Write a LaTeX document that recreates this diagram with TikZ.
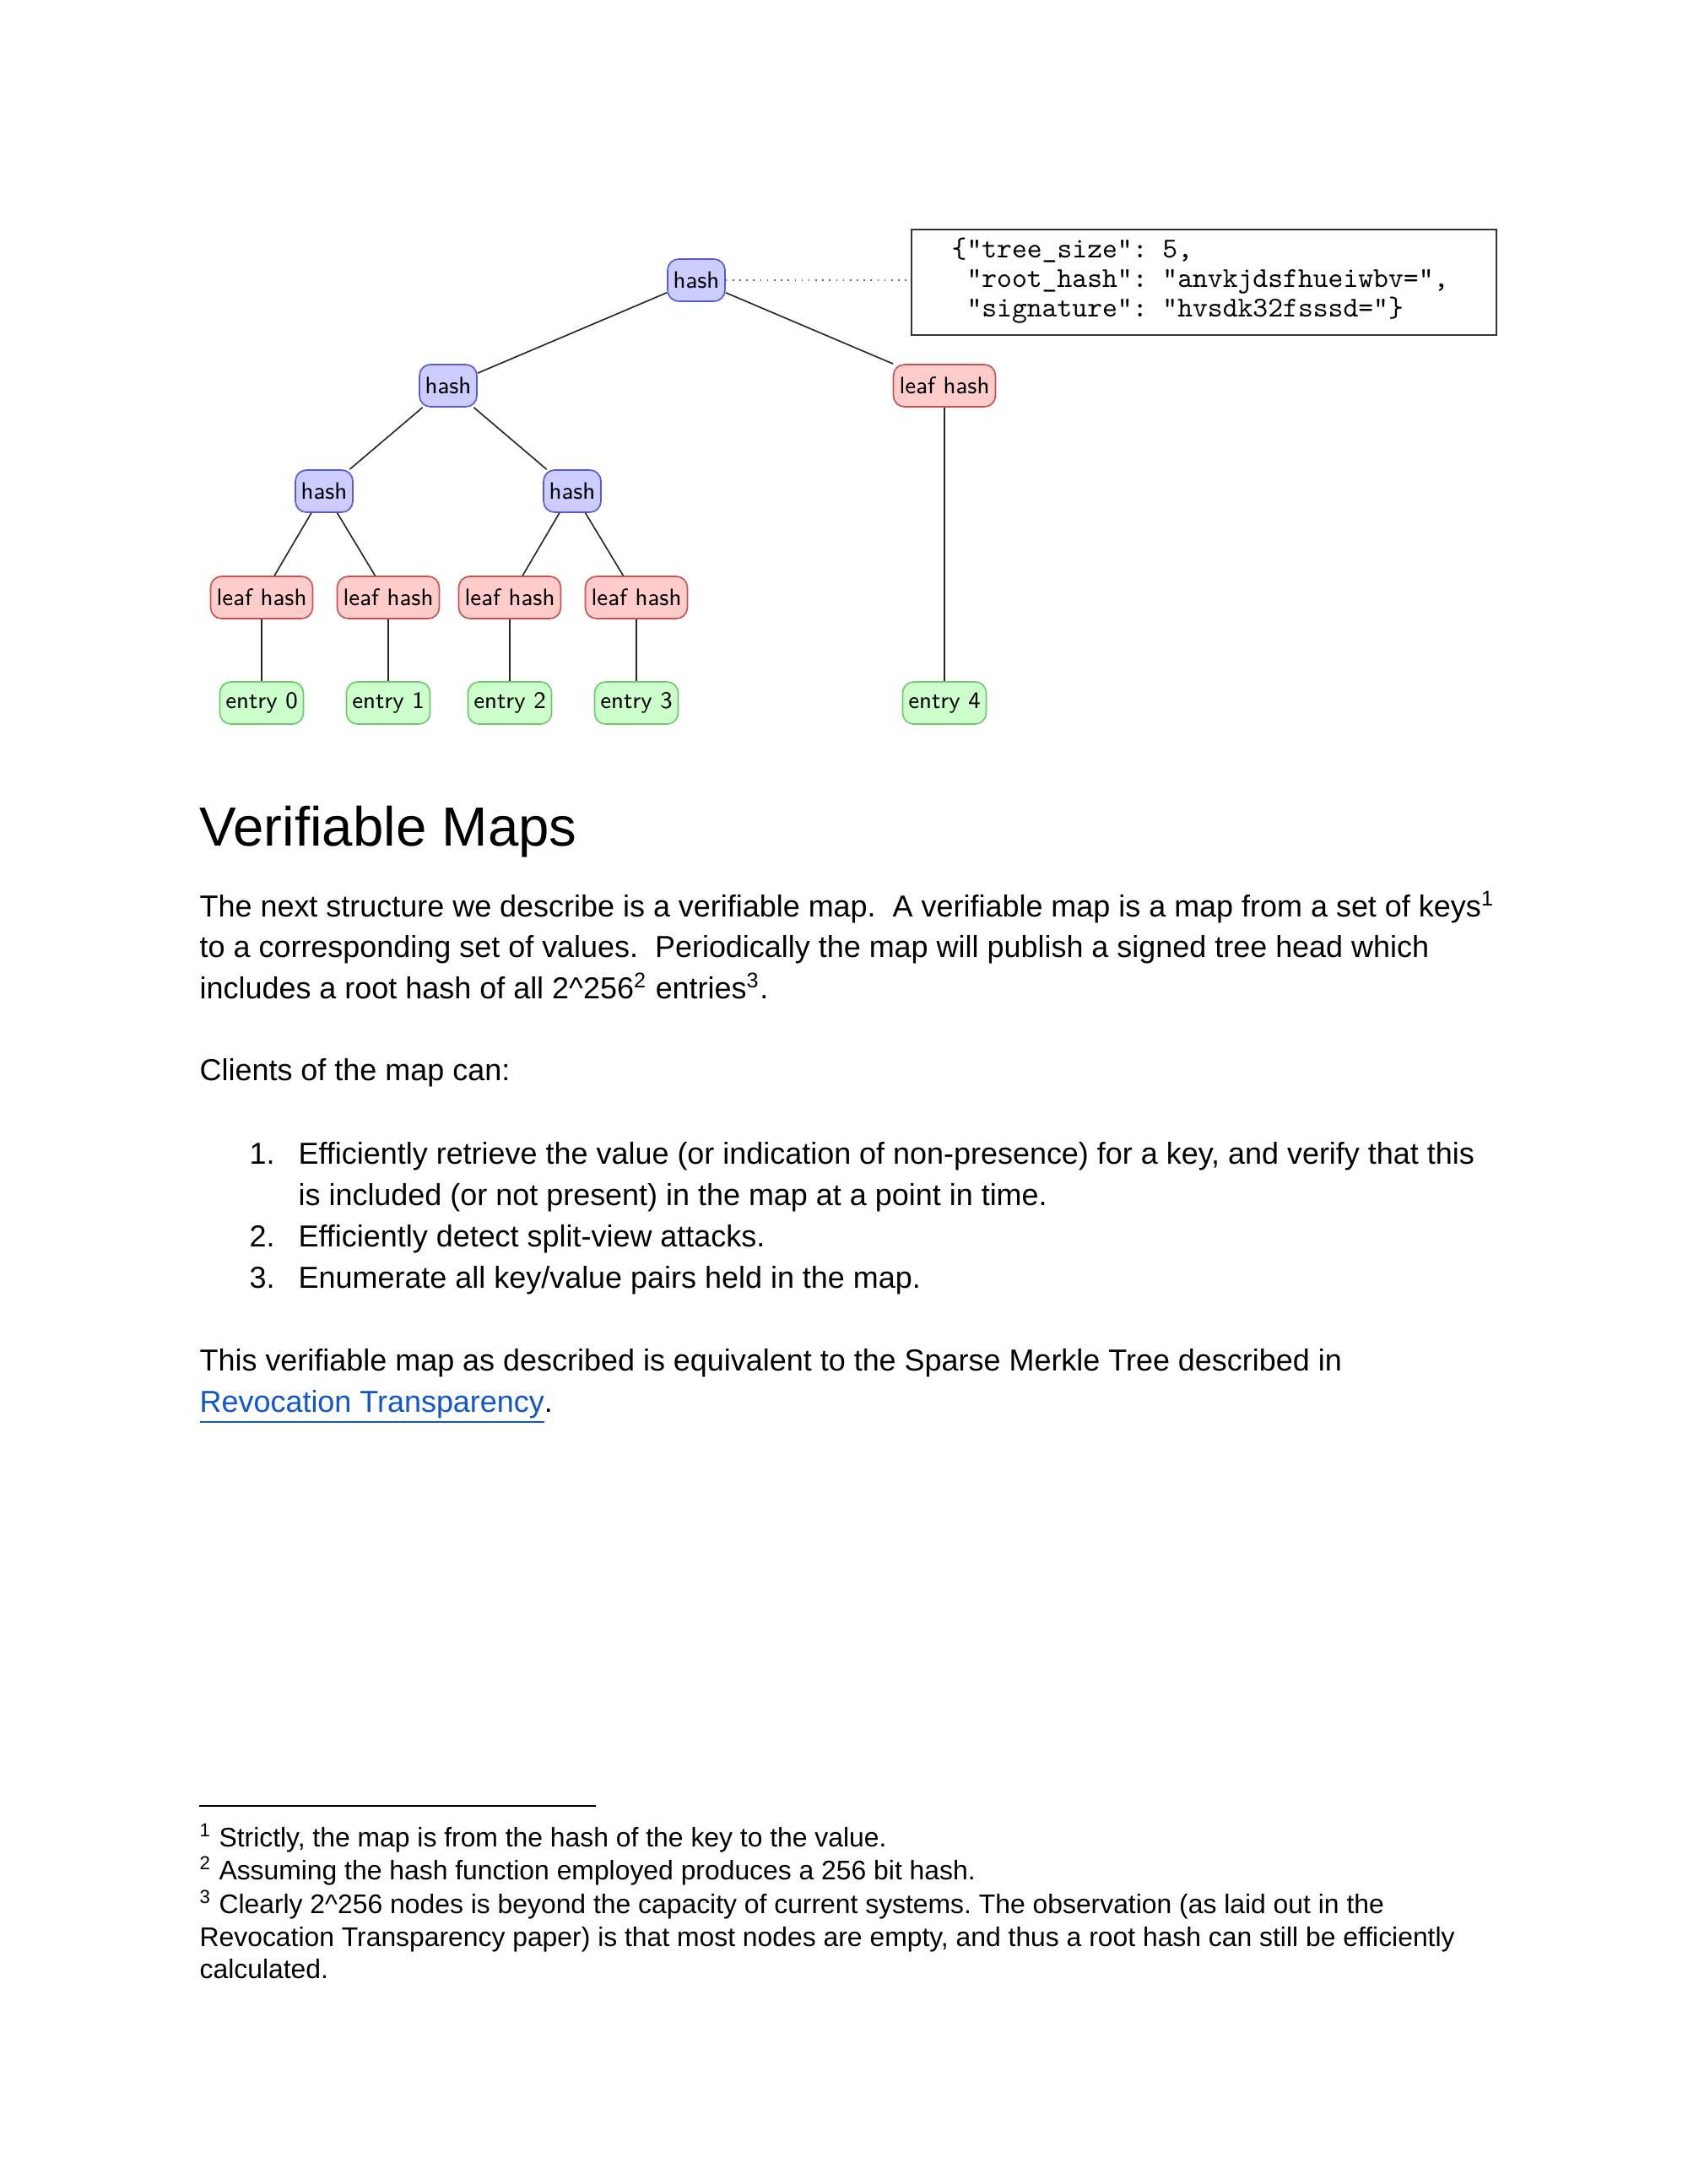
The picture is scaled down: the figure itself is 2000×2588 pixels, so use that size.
\documentclass[tikz,border=0pt]{standalone}
\usepackage{fontspec}
\setmainfont{Liberation Sans}
\frenchspacing
\definecolor{hashfill}{RGB}{204,204,255}
\definecolor{hashdraw}{RGB}{90,90,210}
\definecolor{leaffill}{RGB}{255,204,204}
\definecolor{leafdraw}{RGB}{200,80,80}
\definecolor{entryfill}{RGB}{204,255,204}
\definecolor{entrydraw}{RGB}{110,200,110}
\definecolor{linkblue}{RGB}{17,85,204}
\begin{document}
\begin{tikzpicture}[x=0.306pt,y=-0.306pt,
  tnode/.style={rounded corners=4pt, minimum height=15.3pt, inner xsep=2pt, inner ysep=0pt, font=\fontsize{8.6}{10}\selectfont\sffamily, line width=0.5pt},
  hashbox/.style={tnode, fill=hashfill, draw=hashdraw, minimum width=20.8pt},
  leafbox/.style={tnode, fill=leaffill, draw=leafdraw, minimum width=37pt},
  entrybox/.style={tnode, fill=entryfill, draw=entrydraw, minimum width=30.3pt},
  treeline/.style={line width=0.5pt, black!85},
  bodytext/.style={anchor=base west, inner sep=0pt, font=\fontsize{11}{13}\selectfont\frenchspacing},
  foottext/.style={anchor=base west, inner sep=0pt, font=\fontsize{9.75}{12}\selectfont\frenchspacing},
  jsontext/.style={anchor=base west, inner sep=0pt, font=\fontsize{10.4}{12}\selectfont\ttfamily\frenchspacing}
]
\fill[white] (0,0) rectangle (2000,2588);
\useasboundingbox (0,0) rectangle (2000,2588);

% tree nodes
\node[hashbox] (root) at (825,332) {hash};
\node[hashbox] (h1) at (531,457) {hash};
\node[leafbox] (rleaf) at (1119,457) {leaf hash};
\node[hashbox] (h2a) at (384,582) {hash};
\node[hashbox] (h2b) at (678,582) {hash};
\node[leafbox] (l0) at (310,708) {leaf hash};
\node[leafbox] (l1) at (460,708) {leaf hash};
\node[leafbox] (l2) at (604,708) {leaf hash};
\node[leafbox] (l3) at (754,708) {leaf hash};
\node[entrybox] (e0) at (310,833) {entry 0};
\node[entrybox] (e1) at (460,833) {entry 1};
\node[entrybox] (e2) at (604,833) {entry 2};
\node[entrybox] (e3) at (754,833) {entry 3};
\node[entrybox] (e4) at (1119,833) {entry 4};

\draw[treeline] (root) -- (h1);
\draw[treeline] (root) -- (rleaf);
\draw[treeline] (h1) -- (h2a);
\draw[treeline] (h1) -- (h2b);
\draw[treeline] (h2a) -- (l0);
\draw[treeline] (h2a) -- (l1);
\draw[treeline] (h2b) -- (l2);
\draw[treeline] (h2b) -- (l3);
\draw[treeline] (l0) -- (e0);
\draw[treeline] (l1) -- (e1);
\draw[treeline] (l2) -- (e2);
\draw[treeline] (l3) -- (e3);
\draw[treeline] (rleaf) -- (e4);

% json box
\node[draw=black!80, line width=0.6pt, minimum width=212.1pt, minimum height=38.2pt, inner sep=0pt] (sth) at (1426.5,334.5) {};
\node[jsontext] (j1) at (1127,305) {\{"tree\_size": 5,};
\node[jsontext] (j2) at (1127,340.5) {\ "root\_hash": "anvkjdsfhueiwbv=",};
\node[jsontext] (j3) at (1127,375.5) {\ "signature": "hvsdk32fsssd="\}};
\draw[dotted, line width=0.5pt, black!60] (root) -- (sth.west |- root);

% heading and body
\node[anchor=base west, inner sep=0pt, font=\fontsize{20}{24}\selectfont] (head) at (236,1002) {Verifiable Maps};
\node[bodytext] (p1) at (236,1086) {The next structure we describe is a verifiable map.~ A verifiable map is a map from a set of keys\textsuperscript{1}};
\node[bodytext] (p2) at (236,1134) {to a corresponding set of values.~ Periodically the map will publish a signed tree head which};
\node[bodytext] (p3) at (236,1183) {includes a root hash of all 2\textasciicircum256\textsuperscript{2} entries\textsuperscript{3}.};
\node[bodytext] (p4) at (236,1280) {Clients of the map can:};
\node[bodytext] (n1) at (295,1379) {1.};
\node[bodytext] (i1) at (353,1379) {Efficiently retrieve the value (or indication of non-presence) for a key, and verify that this};
\node[bodytext] (i1b) at (353,1428) {is included (or not present) in the map at a point in time.};
\node[bodytext] (n2) at (295,1477) {2.};
\node[bodytext] (i2) at (353,1477) {Efficiently detect split-view attacks.};
\node[bodytext] (n3) at (295,1526) {3.};
\node[bodytext] (i3) at (353,1526) {Enumerate all key/value pairs held in the map.};
\node[bodytext] (p5) at (236,1624) {This verifiable map as described is equivalent to the Sparse Merkle Tree described in};
\node[bodytext] (p6) at (236,1673) {{\color{linkblue}\underline{Revocation Transparency}}.};

% footnotes
\coordinate (rulea) at (236,2140);
\coordinate (ruleb) at (706,2140);
\draw[line width=0.8pt] (rulea) -- (ruleb);
\node[foottext] (f1) at (236,2188) {\textsuperscript{1} Strictly, the map is from the hash of the key to the value.};
\node[foottext] (f2) at (236,2227) {\textsuperscript{2} Assuming the hash function employed produces a 256 bit hash.};
\node[foottext] (f3) at (236,2267) {\textsuperscript{3} Clearly 2\textasciicircum256 nodes is beyond the capacity of current systems. The observation (as laid out in the};
\node[foottext] (f4) at (236,2306) {Revocation Transparency paper) is that most nodes are empty, and thus a root hash can still be efficiently};
\node[foottext] (f5) at (236,2344) {calculated.};
\end{tikzpicture}
\end{document}
